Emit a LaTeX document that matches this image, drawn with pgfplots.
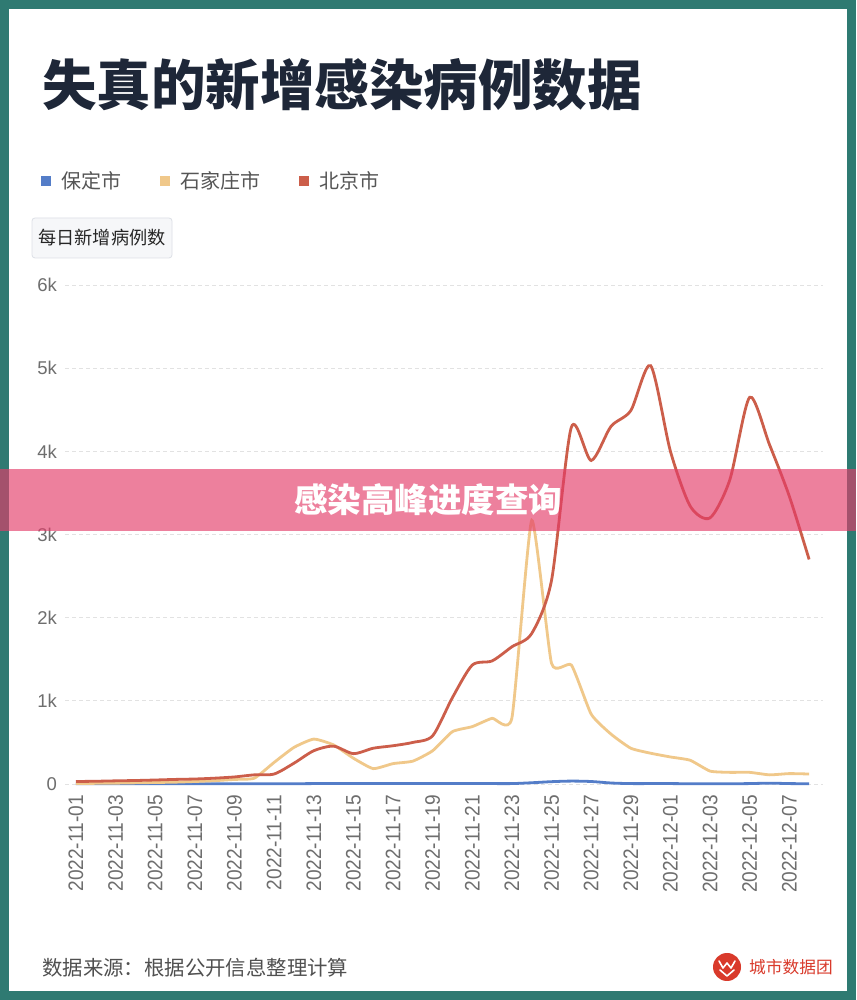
\documentclass[border=0pt]{standalone}
\usepackage{fontspec}
\usepackage{graphicx}
\usepackage{pgfplots}
\usepackage{pgfplotstable}
\pgfplotsset{compat=1.18}
\setmainfont{Liberation Sans}
\newfontfamily\cjk{Noto Sans CJK SC}
\definecolor{tealbg}{RGB}{47,122,114}
\definecolor{titlecol}{RGB}{30,39,56}
\definecolor{legendgray}{RGB}{85,85,85}
\definecolor{boxfill}{RGB}{246,247,249}
\definecolor{boxborder}{RGB}{221,224,230}
\definecolor{tickcol}{RGB}{110,110,110}
\definecolor{gridcol}{RGB}{226,226,226}
\definecolor{sblue}{RGB}{84,125,200}
\definecolor{syellow}{RGB}{240,200,138}
\definecolor{sred}{RGB}{204,94,74}
\definecolor{footgray}{RGB}{80,80,80}
\definecolor{logored}{RGB}{217,58,43}
\definecolor{bannercol}{RGB}{228,60,105}
\newcommand{\dl}[1]{\scalebox{0.91}[1]{2022-#1}}
\pgfplotstableread{
d bd sjz bj
0 3 5 30
1 3 8 33
2 3 10 38
3 3 14 42
4 3 18 48
5 3 22 55
6 3 30 60
7 3 40 70
8 3 55 85
9 3 70 110
10 3 260 120
11 3 440 250
12 5 540 400
13 5 470 455
14 5 310 365
15 5 185 430
16 5 245 460
17 5 275 500
18 5 400 580
19 5 630 1040
20 5 690 1430
21 5 790 1480
22 5 795 1650
23 15 3170 1810
24 28 1450 2450
25 35 1430 4290
26 30 840 3890
27 12 600 4300
28 5 430 4490
29 5 370 5030
30 5 325 4000
31 3 285 3340
32 3 155 3200
33 3 140 3660
34 5 140 4650
35 10 110 4080
36 5 125 3460
37 3 120 2700
}\datatable
\begin{document}
\begin{tikzpicture}[x=1pt,y=1pt]
\fill[tealbg] (0,0) rectangle (856,1000);
\fill[white] (9,9) rectangle (847,991);
\node[anchor=base west, inner sep=0pt, text=titlecol, font=\cjk\fontsize{54.5}{54.5}\selectfont\bfseries] at (42,894) {失真的新增感染病例数据};
\draw[boxborder, fill=boxfill, rounded corners=3pt, line width=0.8pt] (32,742) rectangle (172,782);
\node[inner sep=0pt, text=black!85, font=\cjk\fontsize{18.2}{18.2}\selectfont] at (102,762) {每日新增病例数};
\begin{axis}[
  at={(65pt,216pt)}, anchor=south west,
  scale only axis, width=758pt, height=499pt,
  xmin=-0.555, xmax=37.7, ymin=0, ymax=6000,
  axis line style={draw=none},
  major tick length=0pt,
  xtick={0,2,...,36},
  xticklabels={\dl{11-01},\dl{11-03},\dl{11-05},\dl{11-07},\dl{11-09},\dl{11-11},\dl{11-13},\dl{11-15},\dl{11-17},\dl{11-19},\dl{11-21},\dl{11-23},\dl{11-25},\dl{11-27},\dl{11-29},\dl{12-01},\dl{12-03},\dl{12-05},\dl{12-07}},
  ytick={0,1000,...,6000},
  yticklabels={0,1k,2k,3k,4k,5k,6k},
  scaled y ticks=false,
  ymajorgrids,
  grid style={gridcol, dash pattern=on 4pt off 3pt, line width=0.8pt},
  xticklabel style={rotate=90, anchor=east, inner xsep=11pt, inner ysep=0pt, font=\fontsize{21}{21}\selectfont, text=tickcol},
  yticklabel style={anchor=east, inner xsep=8pt, inner ysep=0pt, font=\fontsize{18.5}{18.5}\selectfont, text=tickcol},
  clip=false,
  legend columns=3,
  legend image code/.code={\fill[#1, draw=none] (0pt,-5pt) rectangle (10pt,5pt);},
  legend style={draw=none, fill=none, inner sep=0pt, outer sep=0pt,
    at={(axis description cs:-0.0317,1.2084)}, anchor=west,
    nodes={inner sep=0pt}, column sep=0pt,
    /tikz/every odd column/.append style={column sep=11pt},
    /tikz/every even column/.append style={column sep=38pt},
    font=\cjk\fontsize{20}{20}\selectfont, text=legendgray},
]
\addplot[sblue, line width=2.8pt, smooth, tension=0.5] table[x=d,y=bd] {\datatable};
\addplot[syellow, line width=2.8pt, smooth, tension=0.3] table[x=d,y=sjz] {\datatable};
\addplot[sred, line width=2.8pt, smooth, tension=0.45] table[x=d,y=bj] {\datatable};
\legend{保定市,石家庄市,北京市}
\end{axis}
\node[anchor=west, inner sep=0pt, text=footgray, font=\cjk\fontsize{20.4}{20.4}\selectfont] at (42,32.5) {数据来源：根据公开信息整理计算};
\fill[logored] (727,33) circle (14);
\draw[white, line width=1.6pt, line join=round, line cap=round] (719,39) -- (723,32) -- (727,37) -- (731,32) -- (735,39);
\draw[white, line width=1.6pt, line join=round, line cap=round] (720,30) -- (727,24) -- (734,30);
\node[anchor=west, inner sep=0pt, text=logored, font=\cjk\fontsize{16.7}{16.7}\selectfont] at (749,33) {城市数据团};
\fill[bannercol, opacity=0.65] (0,469) rectangle (856,531);
\node[inner sep=0pt, text=white, font=\cjk\fontsize{33.5}{33.5}\selectfont\bfseries] at (428,500) {感染高峰进度查询};
\end{tikzpicture}
\end{document}
